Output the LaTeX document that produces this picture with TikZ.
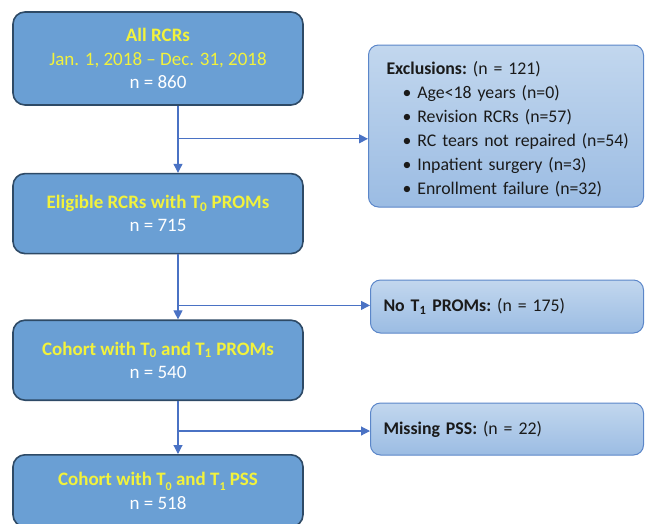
\documentclass[tikz,border=0pt]{standalone}
\usepackage{fontspec}
\setmainfont{Carlito}
\usetikzlibrary{arrows.meta,positioning}
\definecolor{FlowFill}{HTML}{6A9FD4}
\definecolor{FlowEdge}{HTML}{2E4A66}
\definecolor{FlowArrow}{HTML}{4A72C4}
\definecolor{FlowYellow}{HTML}{F2F23C}
\definecolor{SideTop}{HTML}{C2D7EE}
\definecolor{SideBot}{HTML}{9BBCE3}
\definecolor{SideEdge}{HTML}{5B86C9}
\definecolor{SideText}{HTML}{1A1A1A}
\newcommand{\hl}[1]{\textcolor{FlowYellow}{\textbf{#1}}}
\newcommand{\exitem}[1]{\hspace*{34pt}\textbullet\hspace{6pt}#1}
\newcommand{\lowsub}[1]{\raisebox{-5pt}{\fontsize{12}{12}\selectfont #1}}

\begin{document}
\begin{tikzpicture}[x=1pt,y=1pt,
        mainbox/.style={draw=FlowEdge,line width=1.6pt,fill=FlowFill,rounded corners=12pt,minimum width=290pt,align=center,text=white,font=\fontsize{19}{23.5}\selectfont},
        sidebox/.style={draw=SideEdge,line width=1pt,top color=SideTop,bottom color=SideBot,rounded corners=10pt,text width=275pt,inner xsep=0pt,anchor=west,align=left,text=SideText,font=\fontsize{17.8}{24}\selectfont\frenchspacing},
        arr/.style={-{Triangle[length=9pt,width=9pt]},line width=1.1pt,FlowArrow}
      ]
        \useasboundingbox (0,0) rectangle (645,-523);
        \node[mainbox,minimum height=93pt] (all) at (158,-58.5) {\hl{All RCRs}\\ \textcolor{FlowYellow}{Jan. 1, 2018 -- Dec. 31, 2018}\\ n = 860};
        \node[mainbox,minimum height=80pt,below=67pt of all] (elig) {\hl{Eligible RCRs with T\textsubscript{0} PROMs}\\ n = 715};
        \node[mainbox,minimum height=80pt,below=65pt of elig] (cohort) {\hl{Cohort with T\textsubscript{0} and T\textsubscript{1} PROMs}\\ n = 540};
        \node[mainbox,minimum height=72pt,below=53pt of cohort] (pss) {\hl{Cohort with T\lowsub{0} and T\lowsub{1} PSS}\\ n = 518};
        \node[sidebox,minimum height=162pt] (excl) at (368,-126) {\rule{0pt}{20pt}\hspace*{18pt}\textbf{Exclusions:} (n = 121)\\ \exitem{Age<18 years (n=0)}\\ \exitem{Revision RCRs (n=57)}\\ \exitem{RC tears not repaired (n=54)}\\ \exitem{Inpatient surgery (n=3)}\\ \exitem{Enrollment failure (n=32)}};
        \node[sidebox,minimum height=53pt,text width=273pt] (nopr) at (370,-306.5) {\hspace*{13pt}\textbf{No T\textsubscript{1} PROMs:} (n = 175)};
        \node[sidebox,minimum height=52pt,text width=273pt] (miss) at (370,-429) {\hspace*{13pt}\textbf{Missing PSS:} (n = 22)};
        % branch points on the main line
        \coordinate (b1) at ([xshift=20pt,yshift=-33pt]all.south);
        \coordinate (b2) at ([xshift=20pt,yshift=-51pt]elig.south);
        \coordinate (b3) at ([xshift=20pt,yshift=-30pt]cohort.south);
        \draw[arr] ([xshift=20pt]all.south) -- ([xshift=20pt]elig.north);
        \draw[arr] ([xshift=20pt]elig.south) -- ([xshift=20pt]cohort.north);
        \draw[arr] ([xshift=20pt]cohort.south) -- ([xshift=20pt]pss.north);
        \draw[arr] (b1) -- (b1 -| excl.west);
        \draw[arr] (b2) -- (b2 -| nopr.west);
        \draw[arr] (b3) -- (b3 -| miss.west);
      \end{tikzpicture}
\end{document}
